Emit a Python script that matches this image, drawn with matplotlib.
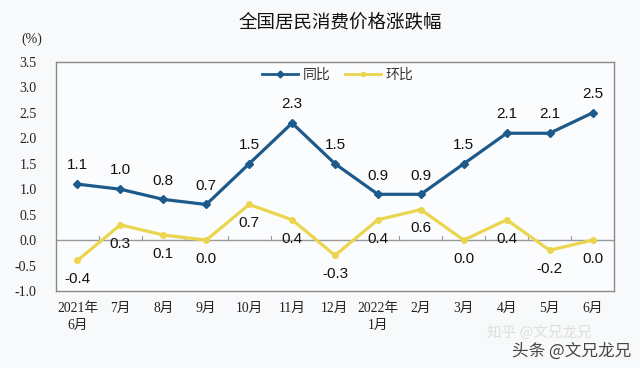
import matplotlib
matplotlib.use("Agg")
import matplotlib.pyplot as plt
from matplotlib.lines import Line2D

months = ["2021年\n6月", "7月", "8月", "9月", "10月", "11月", "12月",
          "2022年\n1月", "2月", "3月", "4月", "5月", "6月"]
yoy = [1.1, 1.0, 0.8, 0.7, 1.5, 2.3, 1.5, 0.9, 0.9, 1.5, 2.1, 2.1, 2.5]
mom = [-0.4, 0.3, 0.1, 0.0, 0.7, 0.4, -0.3, 0.4, 0.6, 0.0, 0.4, -0.2, 0.0]
yticks = [-1.0, -0.5, 0.0, 0.5, 1.0, 1.5, 2.0, 2.5, 3.0, 3.5]

CJK = ["Noto Sans CJK SC", "DejaVu Sans"]
SERIF_CJK = ["Liberation Serif", "Noto Sans CJK SC"]
SANS = ["Liberation Sans", "DejaVu Sans"]

blue = "#1d5a8c"
yellow = "#ecd54e"
bg = "#f7f9fb"

fig = plt.figure(figsize=(6.4, 3.68), dpi=100, facecolor=bg)
ax = fig.add_axes([56/640, 1 - 291/368, (614-56)/640, (291-62)/368])
ax.set_facecolor("#fbfcfd")

x = list(range(len(months)))
ax.axhline(0, color="#9a9a9a", lw=1.0, zorder=1)
for b in range(1, len(months)):
    ax.plot([b - 0.5, b - 0.5], [0, 0.08], color="#9a9a9a", lw=0.8, zorder=1)

ax.plot(x, yoy, color=blue, lw=2.3, marker="D", ms=4.5, zorder=3)
ax.plot(x, mom, color=yellow, lw=2.3, marker="o", ms=4, zorder=3)

for i, v in enumerate(yoy):
    ax.annotate(f"{v:.1f}", (i, v), xytext=(0, 13.5), textcoords="offset points",
                ha="center", va="center", fontsize=11, family=SANS, color="#111111")
for i, v in enumerate(mom):
    ax.annotate(f"{v:.1f}", (i, v), xytext=(0, -13.5), textcoords="offset points",
                ha="center", va="center", fontsize=11, family=SANS, color="#111111")

ax.set_xlim(-0.5, len(months) - 0.5)
ax.set_ylim(-1.0, 3.5)
ax.set_yticks(yticks)
ax.set_yticklabels([f"{t:.1f}" for t in yticks], family=SERIF_CJK, fontsize=10)
ax.set_xticks(x)
ax.set_xticklabels(months, family=SERIF_CJK, fontsize=9.8, linespacing=1.35)
ax.tick_params(axis="both", length=0, colors="#222222")
ax.tick_params(axis="x", pad=8)
ax.tick_params(axis="y", pad=14)
for s in ax.spines.values():
    s.set_color("#8a8a8a")
    s.set_linewidth(1.0)

handles = [Line2D([], [], color=blue, lw=2, marker="D", ms=3.5),
           Line2D([], [], color=yellow, lw=2, marker="o", ms=3)]
ax.legend(handles, ["同比", "环比"], loc="center left",
          bbox_to_anchor=((262 - 56) / 558, (291 - 75) / 229),
          ncol=2, frameon=False, prop={"family": CJK, "size": 10},
          labelcolor="#333333",
          handlelength=2.6, handletextpad=0.3, columnspacing=1.1,
          borderpad=0, borderaxespad=0)

fig.text(340/640, 1 - 22/368, "全国居民消费价格涨跌幅", ha="center", va="center",
         fontsize=13.3, family=CJK, color="#111111")
fig.text(32/640, 1 - 39/368, "(%)", ha="center", va="center",
         fontsize=10, family=SERIF_CJK, color="#222222")
fig.text(487/640, 1 - 332/368, "知乎 @文兄龙兄", ha="left", va="center",
         fontsize=10.5, family=CJK, color="#cccccc", alpha=0.6)
fig.text(512/640, 1 - 351/368, "头条 @文兄龙兄", ha="left", va="center",
         fontsize=12, family=CJK, color="#333333", alpha=0.9)

fig.savefig("out.png", dpi=100, facecolor=bg)
